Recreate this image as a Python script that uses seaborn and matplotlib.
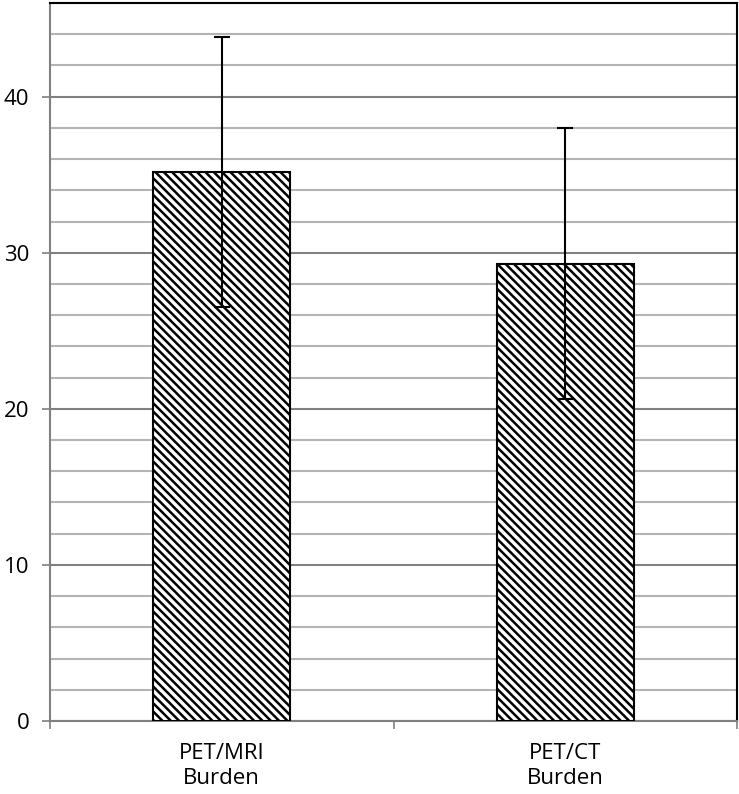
import numpy as np
import pandas as pd
import seaborn as sns
import matplotlib
matplotlib.use('Agg')
import matplotlib.pyplot as plt

sns.set_style('white')
plt.rcParams['font.family'] = ['Open Sans', 'DejaVu Sans']
plt.rcParams['hatch.linewidth'] = 1.8

# data
categories = ['PET/MRI\nBurden', 'PET/CT\nBurden']
means = [35.2, 29.3]
errors = [8.65, 8.7]

df = pd.DataFrame({'group': categories, 'value': means})

fig = plt.figure(figsize=(7.39, 7.94), dpi=100)
ax = fig.add_axes([50 / 739, 73 / 794, 687 / 739, 718 / 794])

sns.barplot(data=df, x='group', y='value', ax=ax, width=0.4,
            color='white', edgecolor='black', linewidth=1.5, errorbar=None, zorder=3)
for p in ax.patches:
    p.set_hatch('\\\\\\\\')

# error bars
xs = [p.get_x() + p.get_width() / 2 for p in ax.patches]
ax.errorbar(xs, means, yerr=errors, fmt='none', ecolor='black',
            elinewidth=1.5, capsize=6, capthick=1.5, zorder=4)

ax.set_ylim(0, 46)
ax.set_xlim(-0.5, 1.5)
ax.set_yticks([0, 10, 20, 30, 40])
ax.set_yticks(np.arange(0, 47, 2), minor=True)
ax.grid(True, axis='y', which='minor', color='#b4b4b4', linewidth=1.5, zorder=0)
ax.grid(True, axis='y', which='major', color='#808080', linewidth=1.5, zorder=0)
ax.set_axisbelow(True)

ax.set_xlabel('')
ax.set_ylabel('')
ax.tick_params(axis='y', which='major', left=True, length=6, width=1.2, color='#808080',
               labelsize=16, pad=9, labelcolor='black')
ax.tick_params(axis='y', which='minor', left=False)
ax.tick_params(axis='x', bottom=False, labelsize=16, pad=12, labelcolor='black')
for t in ax.get_xticklabels():
    t.set_linespacing(1.25)
# category boundary ticks on the x axis
ax.set_xticks([-0.5, 0.5, 1.5], minor=True)
ax.tick_params(axis='x', which='minor', bottom=True, length=6, width=1.2, color='#808080')

for s in ['left', 'bottom']:
    ax.spines[s].set_color('#808080')
    ax.spines[s].set_linewidth(1.5)
for s in ['top', 'right']:
    ax.spines[s].set_color('black')
    ax.spines[s].set_linewidth(1.5)

plt.savefig('out.png', dpi=100)
